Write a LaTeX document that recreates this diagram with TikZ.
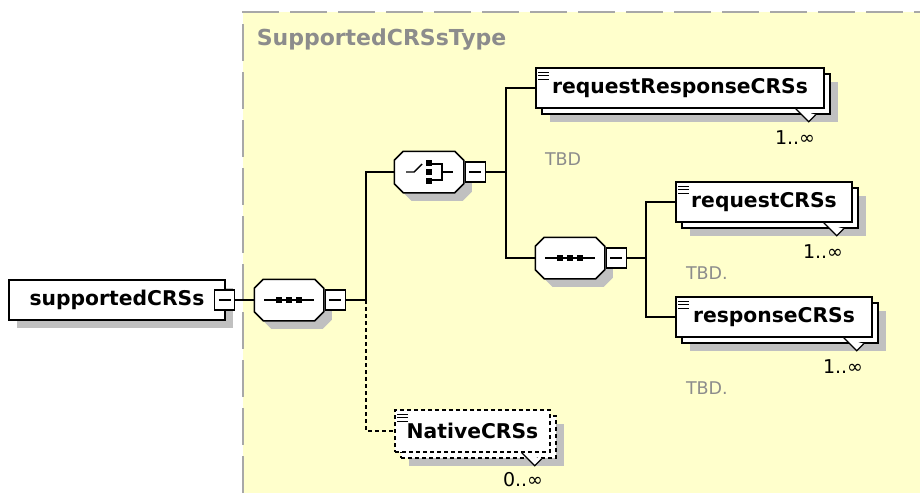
\documentclass[tikz,border=0pt]{standalone}
\usepackage{fontspec}
\setmainfont{DejaVu Sans}
\usetikzlibrary{positioning,shadows}
\definecolor{bgyellow}{HTML}{FFFFCC}
\definecolor{shadowgrey}{HTML}{C0C0C0}
\definecolor{textgrey}{HTML}{8C8C8C}
\definecolor{bordergrey}{HTML}{A8A8A8}
\newcommand\manymark[1]{%
  \draw[fill=white, line width=1.2pt] ([xshift=-29pt]#1.south east) -- ++(13,13) -- ++(7,-7);}
% octagon behind a group node, with its shadow
\newcommand\groupbox[1]{%
  \fill[shadowgrey, transform canvas={xshift=8pt, yshift=-8pt}]
    ([xshift=9pt]#1.north west) -- ([xshift=-9pt]#1.north east) -- ([yshift=-9pt]#1.north east)
    -- ([yshift=9pt]#1.south east) -- ([xshift=-9pt]#1.south east) -- ([xshift=9pt]#1.south west)
    -- ([yshift=9pt]#1.south west) -- ([yshift=-9pt]#1.north west) -- cycle;
  \draw[fill=white]
    ([xshift=9pt]#1.north west) -- ([xshift=-9pt]#1.north east) -- ([yshift=-9pt]#1.north east)
    -- ([yshift=9pt]#1.south east) -- ([xshift=-9pt]#1.south east) -- ([xshift=9pt]#1.south west)
    -- ([yshift=9pt]#1.south west) -- ([yshift=-9pt]#1.north west) -- cycle;}
\newcommand\seqmark[1]{%
  \groupbox{#1}
  \draw[line width=1.4pt] ([xshift=-25pt]#1.center) -- ([xshift=25pt]#1.center);
  \foreach \dx in {-10,0,10}
    \fill ([xshift=\dx pt]#1.center) +(-3pt,-3pt) rectangle +(3pt,3pt);}
\newcommand\choicemark[1]{%
  \groupbox{#1}
  \draw[line width=1.4pt] ([xshift=-23pt]#1.center) -- ([xshift=-15pt]#1.center) -- ([xshift=-7pt, yshift=8pt]#1.center);
  \foreach \dy in {-9,0,9}
    \fill ([yshift=\dy pt]#1.center) +(-3pt,-3pt) rectangle +(3pt,3pt);
  \draw[line width=1.4pt] ([yshift=8pt]#1.center) -| ([xshift=13pt, yshift=-8pt]#1.center) -- ([yshift=-8pt]#1.center);
  \draw[line width=1.4pt] ([xshift=13pt]#1.center) -- ([xshift=24pt]#1.center);}
\begin{document}
\begin{tikzpicture}
    [x=1pt, y=-1pt, line width=1.5pt,
    typetitle/.style={font=\bfseries\fontsize{22}{24}\selectfont, text=textgrey, anchor=west, inner sep=0pt},
    elem/.style={draw, fill=white, inner sep=0pt, minimum height=40pt,
      font=\bfseries\fontsize{20.3}{22}\selectfont},
    single/.style={elem, drop shadow={shadow xshift=8pt, shadow yshift=-8pt,
      fill=shadowgrey, opacity=1, draw=none}},
    multi/.style={elem, drop shadow={shadow xshift=14pt, shadow yshift=-14pt,
      fill=shadowgrey, opacity=1, draw=none},
      copy shadow={shadow xshift=6pt, shadow yshift=-6pt},
      path picture={\foreach \dy in {4,7.5,11}
        \draw[solid, black, line width=0.9pt] ([xshift=2pt, yshift=-\dy pt]path picture bounding box.north west) -- ++(11pt,0pt);}},
    group/.style={inner sep=0pt, minimum width=68pt, minimum height=40pt},
    minusbox/.style={draw, fill=white, minimum size=20pt, inner sep=0pt, line width=1.2pt,
      path picture={\draw[line width=1.2pt] ([xshift=4pt]path picture bounding box.west)
        -- ([xshift=-4pt]path picture bounding box.east);}},
    num/.style={font=\fontsize{19}{21}\selectfont, inner sep=0pt},
    doc/.style={font=\fontsize{17.5}{19}\selectfont, text=textgrey, inner sep=0pt},
    optional/.style={dashed, dash pattern=on 4pt off 3pt}]
  \useasboundingbox (0,0) rectangle (920,493);
  \fill[bgyellow] (243,12) rectangle (920,493);
  \draw[bordergrey, line width=2pt, dash pattern=on 37pt off 11pt] (243,493) -- (243,12) -- (920,12);
  \node[typetitle] (ttl) at (256,40) {SupportedCRSsType};

  % root element and first sequence
  \node[single, minimum width=216pt] (sc) at (117,300) {supportedCRSs};
  \node[minusbox] (scmin) at ([xshift=-1pt]sc.east) {};
  \node[group] (seqa) at (289,300) {};
  \seqmark{seqa}
  \node[minusbox, right=1pt of seqa] (seqamin) {};
  \coordinate (ja) at (366,300);

  % choice
  \node[group] (cho) at (429,172) {};
  \choicemark{cho}
  \node[minusbox, right=1pt of cho] (chomin) {};
  \coordinate (jb) at (506,172);
  \node[multi, minimum width=288pt] (rrc) at (680,88) {requestResponseCRSs};
  \manymark{rrc}
  \node[num, below left=21pt and 9pt of rrc.south east] (rrcnum) {1..∞};
  \node[doc, below right=43pt and 9pt of rrc.south west] (rrcdoc) {TBD};

  % second sequence
  \node[group] (seqb) at (570,258) {};
  \seqmark{seqb}
  \node[minusbox, right=1pt of seqb] (seqbmin) {};
  \coordinate (jc) at (646,258);
  \node[multi, minimum width=176pt] (rqc) at (764,202) {requestCRSs};
  \manymark{rqc}
  \node[num, below left=21pt and 9pt of rqc.south east] (rqcnum) {1..∞};
  \node[doc, below right=43pt and 10pt of rqc.south west] (rqcdoc) {TBD.};
  \node[multi, minimum width=196pt] (rsc) at (774,317) {responseCRSs};
  \manymark{rsc}
  \node[num, below left=21pt and 9pt of rsc.south east] (rscnum) {1..∞};
  \node[doc, below right=43pt and 10pt of rsc.south west] (rscdoc) {TBD.};

  % optional element
  \node[multi, optional, minimum width=155pt, minimum height=42pt] (nat) at (472.5,431) {NativeCRSs};
  \manymark{nat}
  \node[num, below left=19pt and 7pt of nat.south east] (natnum) {0..∞};

  % connectors
  \draw (scmin.east) -- (seqa.west);
  \draw (seqamin.east) -- (ja) |- (cho.west);
  \draw[optional] (ja) |- (nat.west);
  \draw (chomin.east) -- (jb) |- (rrc.west);
  \draw (jb) |- (seqb.west);
  \draw (seqbmin.east) -- (jc) |- (rqc.west);
  \draw (jc) |- (rsc.west);
\end{tikzpicture}
\end{document}
